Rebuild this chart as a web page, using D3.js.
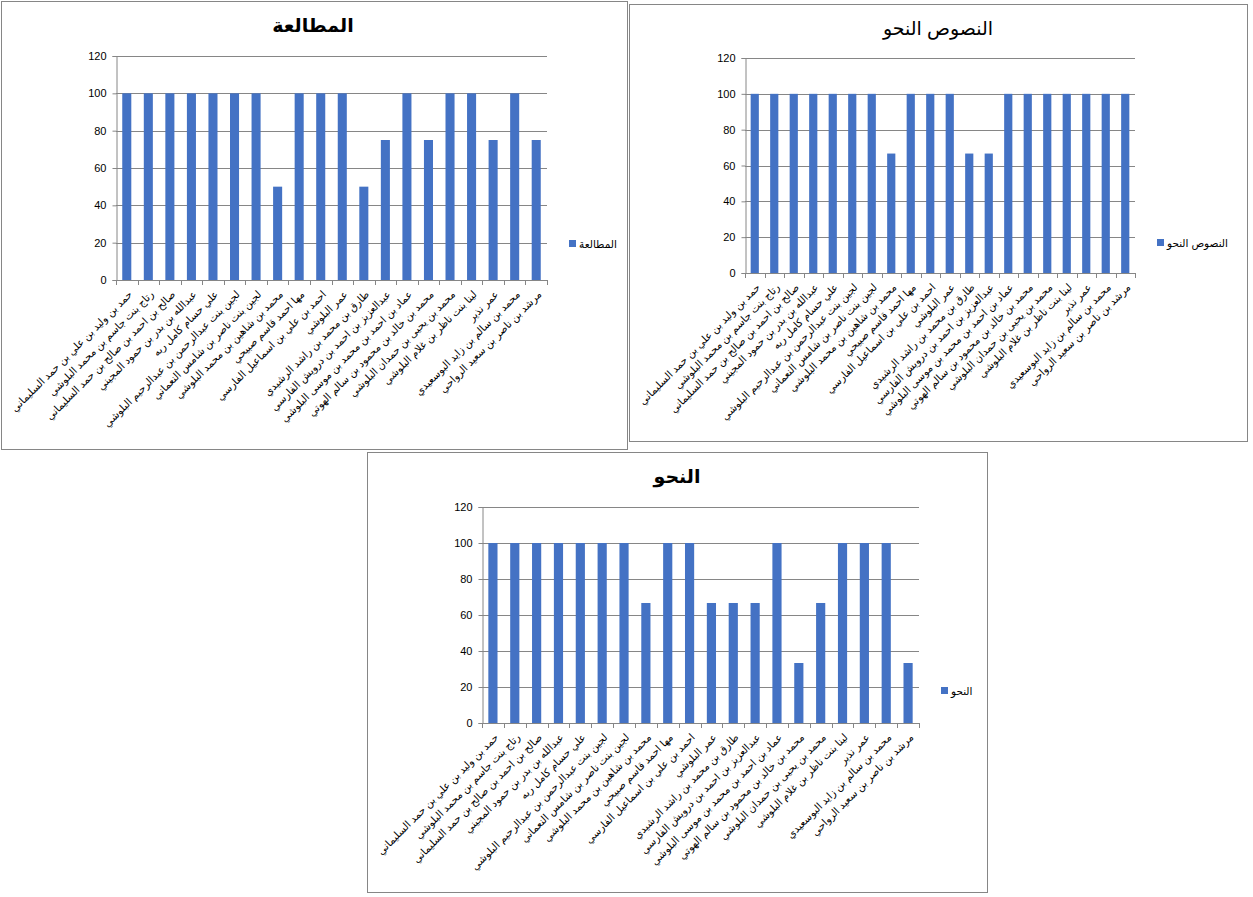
<!DOCTYPE html>
<html>
<head>
<meta charset="utf-8">
<script src="https://cdn.jsdelivr.net/npm/d3@7"></script>
<style>
  body { margin: 0; background: #fff; }
  svg { display: block; }
  text { font-family: "Liberation Sans", Arial, "DejaVu Sans", sans-serif; }
</style>
</head>
<body>
<svg id="page" width="1253" height="897"></svg>
<script>
// category labels (students)
const names = [
  'حمد بن وليد بن علي بن حمد السليماني',
  'رتاج بنت جاسم بن محمد البلوشي',
  'صالح بن احمد بن صالح بن حمد السليماني',
  'عبدالله بن بدر بن حمود المجيني',
  'علي حسام كامل ربه',
  'لجين بنت عبدالرحمن بن عبدالرحيم البلوشي',
  'لجين بنت ناصر بن شامس النعماني',
  'محمد بن شاهين بن محمد  البلوشي',
  'مها احمد قاسم صبيحي',
  'احمد بن علي بن اسماعيل الفارسي',
  'عمر  البلوشي',
  'طارق بن محمد بن راشد الرشيدي',
  'عبدالعزيز بن احمد بن درويش الفارسي',
  'عماد بن احمد بن محمد بن موسى البلوشي',
  'محمد بن خالد بن محمود بن سالم الهوتي',
  'محمد بن يحيى بن حمدان البلوشي',
  'لينا بنت ناظر بن غلام البلوشي',
  'عمر  نذير',
  'محمد بن سالم بن زايد البوسعيدي',
  'مرشد بن ناصر بن سعيد الرواحي'
]

// series values
const mutalaa = [100,100,100,100,100,100,100,50,100,100,100,50,75,100,75,100,100,75,100,75]
const nusus   = [100,100,100,100,100,100,100,66.67,100,100,100,66.67,66.67,100,100,100,100,100,100,100]
const nahw    = [100,100,100,100,100,100,100,66.67,100,100,66.67,66.67,66.67,100,33.33,66.67,100,100,100,33.33]

const yTicks = [0,20,40,60,80,100,120]

const titles = ['المطالعة', 'النصوص النحو', 'النحو']

const svg = d3.select('#page')

// one panel per chart: box, plot area, legend spot
const panels = [
  { title: titles[0], values: mutalaa, bold: true,
    box: [1,1,626,448], plot: [116,547,56,280], titleX: 313, titleY: 32, legX: 569, legY: 244 },
  { title: titles[1], values: nusus, bold: false,
    box: [629,4,618,437], plot: [745,1135,58,273], titleX: 938, titleY: 35, legX: 1157, legY: 243 },
  { title: titles[2], values: nahw, bold: true,
    box: [367,452,620,440], plot: [482,919,507,723], titleX: 677, titleY: 483, legX: 941, legY: 691 },
]

panels.forEach(p => {
  let g = svg.append('g')
  let [x0, x1, yTop, yZero] = p.plot

  g.append('rect')
    .attr('x', p.box[0] + 0.5).attr('y', p.box[1] + 0.5)
    .attr('width', p.box[2]).attr('height', p.box[3])
    .attr('fill', '#fff').attr('stroke', '#868686').attr('stroke-width', 1)

  let x = d3.scaleBand().domain(d3.range(names.length)).range([x0, x1]).paddingInner(0.58).paddingOuter(0.29)
  let y = d3.scaleLinear().domain([0, 120]).range([yZero, yTop])

  // gridlines
  g.selectAll('.grid').data(yTicks.filter(t => t > 0)).enter().append('line')
    .attr('x1', x0).attr('x2', x1)
    .attr('y1', d => Math.round(y(d)) + 0.5).attr('y2', d => Math.round(y(d)) + 0.5)
    .attr('stroke', '#868686').attr('stroke-width', 1)

  // y axis
  let yAxis = d3.axisLeft(y).tickValues(yTicks).tickSize(4).tickPadding(6)
  let ya = g.append('g').attr('transform', `translate(${x0 + 0.5},0)`).call(yAxis)
  ya.select('.domain').attr('stroke', '#868686')
  ya.selectAll('.tick line').attr('stroke', '#868686')
  ya.selectAll('.tick text').attr('font-size', 11).attr('fill', '#000')
    .attr('font-family', '"Open Sans", "Liberation Sans", sans-serif')

  // bars
  g.selectAll('.bar').data(p.values).enter().append('rect')
    .attr('x', (d, i) => x(i))
    .attr('width', x.bandwidth())
    .attr('y', d => y(d))
    .attr('height', d => yZero - y(d))
    .attr('fill', '#4472c4')

  // x axis line + ticks at category boundaries
  let step = (x1 - x0) / names.length
  g.append('line').attr('x1', x0).attr('x2', x1)
    .attr('y1', yZero + 0.5).attr('y2', yZero + 0.5).attr('stroke', '#868686')
  g.selectAll('.xt').data(d3.range(names.length + 1)).enter().append('line')
    .attr('x1', d => Math.round(x0 + d * step) + 0.5).attr('x2', d => Math.round(x0 + d * step) + 0.5)
    .attr('y1', yZero).attr('y2', yZero + 5).attr('stroke', '#868686')

  // category labels, rotated
  g.selectAll('.lab').data(names).enter().append('text')
    .attr('transform', (d, i) => `translate(${x(i) + x.bandwidth() / 2 + 6},${yZero + 15}) rotate(-45)`)
    .attr('text-anchor', 'end')
    .attr('font-size', 10.4)
    .attr('fill', '#000')
    .text(d => d)

  // title
  g.append('text').attr('x', p.titleX).attr('y', p.titleY)
    .attr('text-anchor', 'middle').attr('font-size', 19)
    .attr('font-weight', p.bold ? 'bold' : 'normal')
    .text(p.title)

  // legend
  g.append('rect').attr('x', p.legX).attr('y', p.legY - 4).attr('width', 7).attr('height', 7).attr('fill', '#4472c4')
  g.append('text').attr('x', p.legX + 10).attr('y', p.legY + 3.5)
    .attr('text-anchor', 'start').attr('direction', 'ltr').attr('font-size', 10.5)
    .text(p.title)
})
</script>
</body>
</html>
